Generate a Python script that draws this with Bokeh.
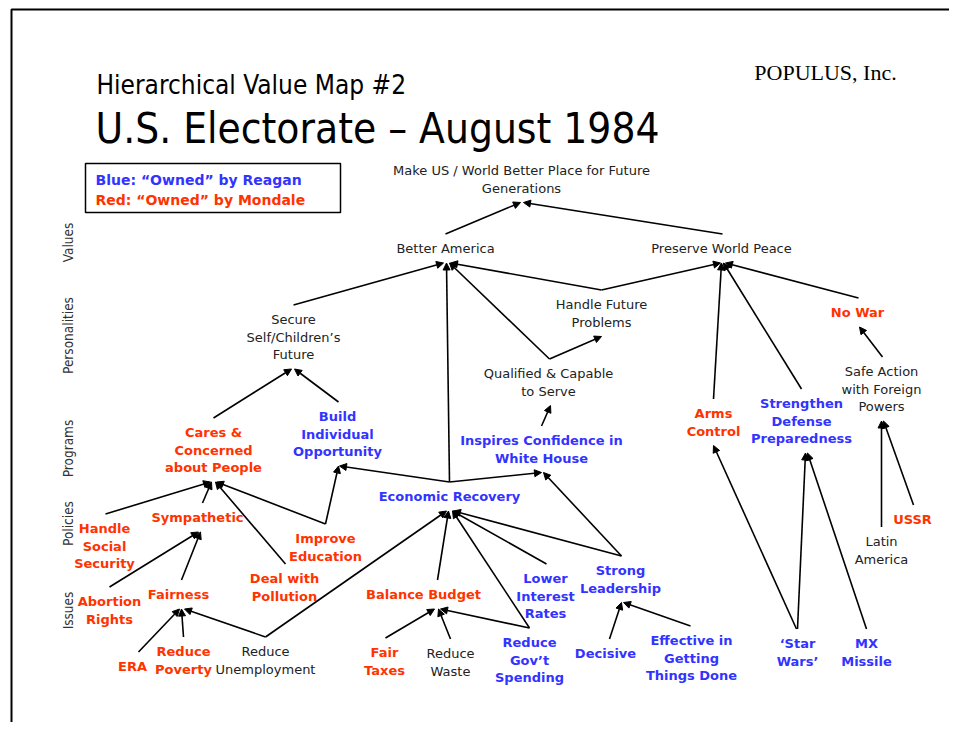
from math import pi
from bokeh.plotting import figure
from bokeh.models import ColumnDataSource, Range1d, Arrow, NormalHead
from bokeh.core.properties import value
from bokeh.embed import file_html
from bokeh.resources import INLINE

BLUE = "#3333ff"
RED = "#ff3300"
INK = "#222222"
FONT = "DejaVu Sans"
FONT_C = "DejaVu Sans Condensed"

# ---------------- data ----------------
title_small = "Hierarchical Value Map #2"
title_big = "U.S. Electorate \u2013 August 1984"
company = "POPULUS, Inc."
legend_lines = ["Blue: \u201cOwned\u201d by Reagan", "Red: \u201cOwned\u201d by Mondale"]
levels = ["Values", "Personalities", "Programs", "Policies", "Issues"]
level_y = [242, 335, 448, 523, 610]

node_ids = ["make", "better", "peace", "secure", "future", "qualified", "safe", "latin",
            "unemploy", "waste", "nowar", "cares", "sympa", "social", "educ", "pollu",
            "abort", "fair", "era", "poverty", "budget", "taxes", "arms", "ussr",
            "build", "inspires", "econ", "defense", "interest", "leader", "spending",
            "decisive", "effective", "starwars", "mx"]
node_text = [
    "Make US / World Better Place for Future\nGenerations",
    "Better America",
    "Preserve World Peace",
    "Secure\nSelf/Children\u2019s\nFuture",
    "Handle Future\nProblems",
    "Qualified & Capable\nto Serve",
    "Safe Action\nwith Foreign\nPowers",
    "Latin\nAmerica",
    "Reduce\nUnemployment",
    "Reduce\nWaste",
    "No War",
    "Cares &\nConcerned\nabout People",
    "Sympathetic",
    "Handle\nSocial\nSecurity",
    "Improve\nEducation",
    "Deal with\nPollution",
    "Abortion\nRights",
    "Fairness",
    "ERA",
    "Reduce\nPoverty",
    "Balance Budget",
    "Fair\nTaxes",
    "Arms\nControl",
    "USSR",
    "Build\nIndividual\nOpportunity",
    "Inspires Confidence in\nWhite House",
    "Economic Recovery",
    "Strengthen\nDefense\nPreparedness",
    "Lower\nInterest\nRates",
    "Strong\nLeadership",
    "Reduce\nGov\u2019t\nSpending",
    "Decisive",
    "Effective in\nGetting\nThings Done",
    "\u2018Star\nWars\u2019",
    "MX\nMissile",
]
node_owner = ["none"] * 10 + ["mondale"] * 14 + ["reagan"] * 11
node_x = [521, 445, 721, 293, 601, 548, 881, 881, 265, 450,
          857, 213, 197, 104, 325, 284, 109, 178, 132, 183, 423, 384, 713, 912,
          337, 541, 449, 801, 545, 620, 529, 605, 691, 797, 866]
node_y = [170, 248, 248, 319, 304, 373, 371, 541, 651, 653,
          312, 432, 517, 528, 538, 578, 601, 594, 666, 651, 594, 652, 413, 519,
          416, 440, 496, 403, 578, 570, 642, 653, 640, 643, 643]

edge_from = ["better", "peace", "secure", "econ", "qualified", "qualified", "future", "future",
             "inspires", "arms", "defense", "nowar", "safe", "latin", "ussr", "starwars",
             "starwars", "mx", "cares", "build", "social", "sympa", "pollu", "educ", "educ",
             "econ", "econ", "abort", "fair", "era", "poverty", "unemploy", "unemploy",
             "budget", "spending", "interest", "leader", "leader", "taxes", "waste",
             "spending", "decisive", "effective"]
edge_to = ["make", "make", "better", "better", "better", "future", "better", "peace",
           "qualified", "peace", "peace", "peace", "nowar", "safe", "safe", "arms",
           "defense", "defense", "secure", "secure", "cares", "cares", "cares", "cares", "build",
           "build", "inspires", "sympa", "sympa", "fair", "fair", "fair", "econ",
           "econ", "econ", "econ", "econ", "inspires", "budget", "budget",
           "budget", "leader", "leader"]
edge_from_dx = [0, 1, 0, 0, 1, 1, 0, 0,
                0, 0, 0, 1, 1, 0, 1, -1,
                0, 0, 0, 1, 1, 5, 1, 0, 0,
                0, 0, 0, 3, 6, 0, 0, 0,
                14, 0, 1, 1, 1, 1, 0,
                0, 4, -1]
edge_to_dx = [-1, 2, -2, 1, 4, 0, 5, -1,
              2, 0, 2, 4, 2, 0, 2, 0,
              4, 6, -2, 1, -3, -2, 2, 3, 1,
              2, 0, 1, 3, 1, 3, 6, -3,
              -1, 3, 3, 4, 2, 11, 15,
              17, 1, 3]

# ---------------- layout helpers ----------------
LINE_H = 17.5
GAP = 14.5
W, H = 949, 722

p = figure(width=W, height=H, output_backend="svg", toolbar_location=None,
           x_range=Range1d(0, W), y_range=Range1d(H, 0),
           min_border=0, outline_line_color=None)
p.axis.visible = False
p.grid.visible = False
p.background_fill_color = "white"
p.border_fill_color = "white"

# slide frame
p.line(x=[11, 11, W], y=[H, 9, 9], line_color="black", line_width=2)

color_of = {"none": INK, "reagan": BLUE, "mondale": RED}
pos = {}
reg = dict(x=[], y=[], text=[], color=[])
bold = dict(x=[], y=[], text=[], color=[])
for nid, txt, owner, cx, cy in zip(node_ids, node_text, node_owner, node_x, node_y):
    lines = txt.split("\n")
    pos[nid] = (cx, cy, cy + LINE_H * (len(lines) - 1))
    tgt = reg if owner == "none" else bold
    for i, ln in enumerate(lines):
        tgt["x"].append(cx)
        tgt["y"].append(cy + i * LINE_H)
        tgt["text"].append(ln)
        tgt["color"].append(color_of[owner])

# edges
ed = dict(x0=[], y0=[], x1=[], y1=[])
for a, b, da, db in zip(edge_from, edge_to, edge_from_dx, edge_to_dx):
    ax, atop, _ = pos[a]
    bx, _, bbot = pos[b]
    ed["x0"].append(ax + da)
    ed["y0"].append(atop - GAP)
    ed["x1"].append(bx + db)
    ed["y1"].append(bbot + GAP)
p.add_layout(Arrow(end=NormalHead(size=7, fill_color="black", line_color="black", line_width=1),
                   x_start="x0", y_start="y0", x_end="x1", y_end="y1",
                   source=ColumnDataSource(ed), line_color="black", line_width=1.6))

p.text(x="x", y="y", text="text", text_color="color", source=ColumnDataSource(reg),
       text_font=value(FONT), text_font_size="13px", text_align="center",
       text_baseline="middle")
p.text(x="x", y="y", text="text", text_color="color", source=ColumnDataSource(bold),
       text_font=value(FONT), text_font_size="13px", text_font_style="bold",
       text_align="center", text_baseline="middle")

# level labels
p.text(x=[67] * len(levels), y=level_y, text=levels, angle=pi / 2,
       text_font=value(FONT_C), text_font_size="13.5px", text_color="#333333",
       text_align="center", text_baseline="middle")

# titles
p.text(x=[96], y=[84], text=[title_small], text_font=value(FONT_C), text_font_size="26px",
       text_color="black", text_align="left", text_baseline="middle")
p.text(x=[95], y=[128], text=[title_big], text_font=value(FONT_C), text_font_size="42px",
       text_color="black", text_align="left", text_baseline="middle")
p.text(x=[825], y=[72], text=[company], text_font=value("Liberation Serif"),
       text_font_size="22px", text_color="black", text_align="center", text_baseline="middle")

# legend box
p.quad(left=[85], right=[340], top=[163], bottom=[212], fill_color="white",
       line_color="black", line_width=1.5)
p.text(x=[95, 95], y=[179, 199], text=legend_lines, text_color=[BLUE, RED],
       text_font=value(FONT), text_font_size="14px", text_font_style="bold",
       text_align="left", text_baseline="middle")

open("out.html", "w").write(file_html(p, INLINE))
